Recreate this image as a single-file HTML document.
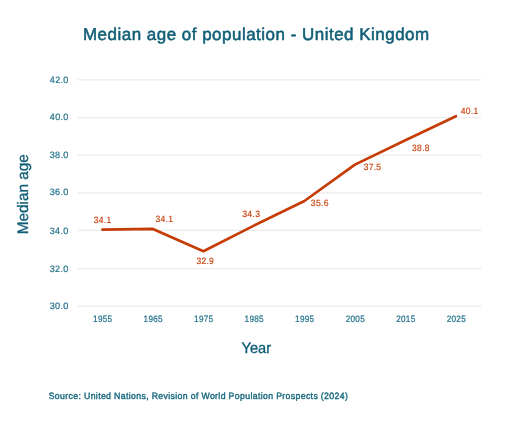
<!DOCTYPE html>
<html>
<head>
<meta charset="utf-8">
<title>Median age of population - United Kingdom</title>
<style>
html,body{margin:0;padding:0;background:#fff;}
body{width:512px;height:428px;overflow:hidden;font-family:"Liberation Sans",sans-serif;}
svg{display:block;will-change:transform;}
text{font-family:"Liberation Sans",sans-serif;white-space:pre;text-rendering:geometricPrecision;font-kerning:none;}
</style>
</head>
<body>
<svg width="512" height="428" viewBox="0 0 512 428">
<g stroke="#ebebeb" stroke-width="1.20">
<line x1="77.5" y1="79.90" x2="481.4" y2="79.90"/>
<line x1="77.5" y1="117.70" x2="481.4" y2="117.70"/>
<line x1="77.5" y1="155.10" x2="481.4" y2="155.10"/>
<line x1="77.5" y1="192.80" x2="481.4" y2="192.80"/>
<line x1="77.5" y1="230.45" x2="481.4" y2="230.45"/>
<line x1="77.5" y1="268.70" x2="481.4" y2="268.70"/>
<line x1="77.5" y1="306.10" x2="481.4" y2="306.10"/>
</g>
<polyline fill="none" stroke="#c63c06" stroke-width="2.70" stroke-linecap="round" stroke-linejoin="round" points="102.40,229.55 152.90,228.90 203.40,251.20 253.90,225.60 304.40,201.00 354.90,164.60 405.40,140.20 455.90,116.20"/>
<text transform="translate(82.984 39.700) scale(0.98585 1)" x="0.00 14.83 24.91 34.98 39.31 49.38 59.46 64.74 74.81 84.89 94.96 100.25 110.32 115.61 120.89 130.96 141.04 151.11 161.18 165.51 175.58 180.87 185.20 195.27 205.34 210.63 216.87 222.15 235.08 245.15 249.48 254.77 264.84 274.91 280.20 292.18 296.51 306.58 316.65 326.73 336.80" y="0" font-size="17.200" fill="#105e76" stroke="#105e76" stroke-width="0.55" stroke-linejoin="round">Median age of population - United Kingdom</text>
<text transform="translate(241.453 352.850) scale(0.96430 1)" x="0.00 8.74 17.20 25.65" y="0" font-size="15.200" fill="#105e76" stroke="#105e76" stroke-width="0.36" stroke-linejoin="round">Year</text>
<text transform="translate(28.400 234.280) rotate(-90) scale(1.00691 1)" x="0.00 12.66 21.12 29.57 32.95 41.40 49.85 54.08 62.53 70.98" y="0" font-size="15.200" fill="#105e76" stroke="#105e76" stroke-width="0.35" stroke-linejoin="round">Median age</text>
<text transform="translate(48.704 399.400) scale(0.94849 1)" x="0.00 6.51 11.99 17.48 20.91 25.88 31.36 34.29 37.21 44.23 49.71 52.13 55.05 60.54 66.02 68.95 75.96 81.45 84.37 86.78 92.27 97.75 102.72 105.65 108.57 115.59 121.07 126.04 128.45 133.42 135.84 141.32 146.81 149.73 155.22 158.14 161.07 169.95 175.44 178.87 181.29 186.77 189.70 196.20 201.69 207.17 212.66 215.07 220.56 223.48 225.90 231.38 236.87 239.79 246.30 249.73 255.21 260.18 265.67 271.16 276.12 279.05 284.02 286.94 290.38 295.86 301.35 306.83 312.32" y="0" font-size="9.200" fill="#1b6a80" stroke="#1b6a80" stroke-width="0.41" stroke-linejoin="round">Source: United Nations, Revision of World Population Prospects (2024)</text>
<text transform="translate(49.852 82.609) scale(0.97011 1)" x="0.00 5.49 10.99 13.89" y="0" font-size="9.322" fill="#21718a" stroke="#21718a" stroke-width="0.20" stroke-linejoin="round">42.0</text>
<text transform="translate(49.852 120.279) scale(0.97011 1)" x="0.00 5.49 10.99 13.89" y="0" font-size="9.322" fill="#21718a" stroke="#21718a" stroke-width="0.20" stroke-linejoin="round">40.0</text>
<text transform="translate(49.713 157.949) scale(0.97796 1)" x="0.00 5.49 10.98 13.88" y="0" font-size="9.322" fill="#21718a" stroke="#21718a" stroke-width="0.20" stroke-linejoin="round">38.0</text>
<text transform="translate(49.713 195.219) scale(0.97796 1)" x="0.00 5.49 10.98 13.88" y="0" font-size="9.322" fill="#21718a" stroke="#21718a" stroke-width="0.20" stroke-linejoin="round">36.0</text>
<text transform="translate(49.713 233.789) scale(0.97796 1)" x="0.00 5.49 10.98 13.88" y="0" font-size="9.322" fill="#21718a" stroke="#21718a" stroke-width="0.20" stroke-linejoin="round">34.0</text>
<text transform="translate(49.713 271.609) scale(0.97796 1)" x="0.00 5.49 10.98 13.88" y="0" font-size="9.322" fill="#21718a" stroke="#21718a" stroke-width="0.20" stroke-linejoin="round">32.0</text>
<text transform="translate(49.713 308.629) scale(0.97796 1)" x="0.00 5.49 10.98 13.88" y="0" font-size="9.322" fill="#21718a" stroke="#21718a" stroke-width="0.20" stroke-linejoin="round">30.0</text>
<text transform="translate(93.048 321.709) scale(0.87879 1)" x="0.00 5.53 11.05 16.58" y="0" font-size="9.322" fill="#21718a" stroke="#21718a" stroke-width="0.21" stroke-linejoin="round">1955</text>
<text transform="translate(143.548 321.709) scale(0.87879 1)" x="0.00 5.53 11.05 16.58" y="0" font-size="9.322" fill="#21718a" stroke="#21718a" stroke-width="0.21" stroke-linejoin="round">1965</text>
<text transform="translate(194.048 321.709) scale(0.87879 1)" x="0.00 5.53 11.05 16.58" y="0" font-size="9.322" fill="#21718a" stroke="#21718a" stroke-width="0.21" stroke-linejoin="round">1975</text>
<text transform="translate(244.548 321.709) scale(0.87879 1)" x="0.00 5.53 11.05 16.58" y="0" font-size="9.322" fill="#21718a" stroke="#21718a" stroke-width="0.21" stroke-linejoin="round">1985</text>
<text transform="translate(295.048 321.709) scale(0.87879 1)" x="0.00 5.53 11.05 16.58" y="0" font-size="9.322" fill="#21718a" stroke="#21718a" stroke-width="0.21" stroke-linejoin="round">1995</text>
<text transform="translate(345.654 321.709) scale(0.87879 1)" x="0.00 5.53 11.05 16.58" y="0" font-size="9.322" fill="#21718a" stroke="#21718a" stroke-width="0.21" stroke-linejoin="round">2005</text>
<text transform="translate(396.154 321.709) scale(0.87879 1)" x="0.00 5.53 11.05 16.58" y="0" font-size="9.322" fill="#21718a" stroke="#21718a" stroke-width="0.21" stroke-linejoin="round">2015</text>
<text transform="translate(446.654 321.709) scale(0.87879 1)" x="0.00 5.53 11.05 16.58" y="0" font-size="9.322" fill="#21718a" stroke="#21718a" stroke-width="0.21" stroke-linejoin="round">2025</text>
<text transform="translate(93.661 223.126) scale(0.93743 1)" x="0.00 5.37 10.74 13.59" y="0" font-size="9.082" fill="#c8440f" stroke="#c8440f" stroke-width="0.18" stroke-linejoin="round">34.1</text>
<text transform="translate(155.561 221.926) scale(0.93743 1)" x="0.00 5.37 10.74 13.59" y="0" font-size="9.082" fill="#c8440f" stroke="#c8440f" stroke-width="0.18" stroke-linejoin="round">34.1</text>
<text transform="translate(196.463 263.926) scale(0.93078 1)" x="0.00 5.37 10.75 13.59" y="0" font-size="9.082" fill="#c8440f" stroke="#c8440f" stroke-width="0.18" stroke-linejoin="round">32.9</text>
<text transform="translate(242.151 216.826) scale(0.96451 1)" x="0.00 5.36 10.72 13.56" y="0" font-size="9.082" fill="#c8440f" stroke="#c8440f" stroke-width="0.17" stroke-linejoin="round">34.3</text>
<text transform="translate(310.855 206.026) scale(0.95270 1)" x="0.00 5.37 10.73 13.57" y="0" font-size="9.082" fill="#c8440f" stroke="#c8440f" stroke-width="0.17" stroke-linejoin="round">35.6</text>
<text transform="translate(363.662 169.926) scale(0.93400 1)" x="0.00 5.37 10.74 13.59" y="0" font-size="9.082" fill="#c8440f" stroke="#c8440f" stroke-width="0.18" stroke-linejoin="round">37.5</text>
<text transform="translate(412.060 151.026) scale(0.94064 1)" x="0.00 5.37 10.74 13.58" y="0" font-size="9.082" fill="#c8440f" stroke="#c8440f" stroke-width="0.18" stroke-linejoin="round">38.8</text>
<text transform="translate(460.789 114.326) scale(0.94161 1)" x="0.00 5.37 10.74 13.58" y="0" font-size="9.082" fill="#c8440f" stroke="#c8440f" stroke-width="0.18" stroke-linejoin="round">40.1</text>
</svg>
</body>
</html>
